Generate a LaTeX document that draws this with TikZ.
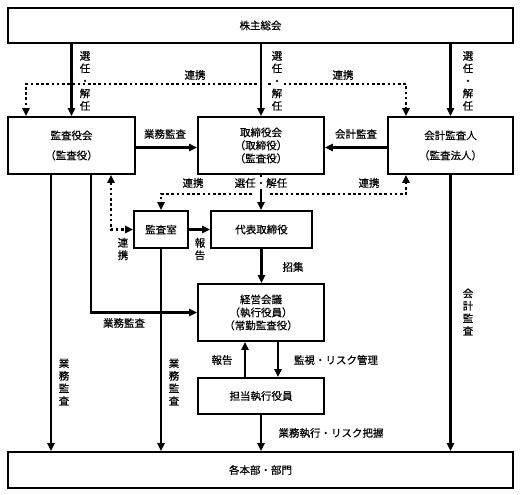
\documentclass[tikz,border=0pt]{standalone}
\usepackage{fontspec}
\setmainfont{Noto Sans CJK JP}[FakeBold=0.5]
\usetikzlibrary{arrows.meta,calc}

\begin{document}
\begin{tikzpicture}[x=1pt,y=-1pt,
                box/.style={draw,line width=1.6pt,align=center,inner sep=0pt,
                            font=\fontsize{10.5}{13}\selectfont},
                wide/.style={font=\fontsize{10.5}{20}\selectfont},
                arr/.style={line width=2.6pt,-{Triangle[length=8pt,width=7pt]}},
                dots/.style={line width=2.6pt,dash pattern=on 2.6pt off 2.6pt,
                             -{Triangle[length=8pt,width=7pt]}},
                lbl/.style={font=\fontsize{10.5}{12.5}\selectfont,align=center,inner sep=0pt}
            ]
                \useasboundingbox (0,0) rectangle (522,495);
                \node[box,minimum width=505pt,minimum height=35pt] (soukai) at (260.5,25.5) {株主総会};
                \node[box,wide,minimum width=127pt,minimum height=57pt] (kansayakukai) at (71.5,145.5) {監査役会\\（監査役）};
                \node[box,minimum width=126pt,minimum height=57pt] (torishimari) at (261,145.5) {取締役会\\（取締役）\\（監査役）};
                \node[box,wide,minimum width=125pt,minimum height=57pt] (kaikei) at (450.5,145.5) {会計監査人\\（監査法人）};
                \node[box,minimum width=54pt,minimum height=37pt] (kansashitsu) at (161,229.5) {監査室};
                \node[box,minimum width=101pt,minimum height=37pt] (daihyo) at (261.5,229.5) {代表取締役};
                \node[box,minimum width=126pt,minimum height=57pt] (keiei) at (261,312.5) {経営会議\\（執行役員）\\（常勤監査役）};
                \node[box,minimum width=126pt,minimum height=36pt] (tanto) at (261,396) {担当執行役員};
                \node[box,minimum width=505pt,minimum height=36pt] (honbu) at (260.5,470) {各本部・部門};

                \draw[arr] (kansayakukai.north |- soukai.south) -- (kansayakukai.north);
                \draw[arr] (torishimari.north |- soukai.south) -- (torishimari.north);
                \draw[arr] (kaikei.north |- soukai.south) -- (kaikei.north);

                \coordinate (rk1) at (257,84);
                \coordinate (rk2) at (268,84);
                \draw[dots] (rk1) -| ([xshift=-45.5pt]kansayakukai.north);
                \draw[dots] (rk2) -| ([xshift=-44.5pt]kaikei.north);
                \node[lbl] (renkei1) at (195,75) {連携};
                \node[lbl] (renkei2) at (343,75) {連携};
                \node[lbl] (sen1) at (85,81) {選\\任\\・\\解\\任};
                \node[lbl,fill=white,inner sep=1pt] (sen2) at (277,81) {選\\任\\・\\解\\任};
                \node[lbl] (sen3) at (468,81) {選\\任\\・\\解\\任};

                \draw[arr] ([yshift=-2pt]kansayakukai.east) -- ([yshift=-2pt]torishimari.west);
                \draw[arr] ([yshift=-2pt]kaikei.west) -- ([yshift=-2pt]torishimari.east);
                \node[lbl] (gyomu1) at (165,134) {業務監査};
                \node[lbl] (kaikei1) at (356,134) {会計監査};

                \draw[arr] (torishimari.south) -- (torishimari.south |- daihyo.north);
                \node[lbl,fill=white,inner sep=1pt] (sen4) at (261,183) {選任・解任};
                \coordinate (rk3) at (252,194);
                \coordinate (rk4) at (270,194);
                \draw[dots] (rk3) -| (kansashitsu.north);
                \draw[dots] (rk4) -| ([xshift=-44.5pt]kaikei.south);
                \node[lbl] (renkei3) at (193,183) {連携};
                \node[lbl] (renkei4) at (369,183) {連携};

                \draw[dots,{Triangle[length=8pt,width=7pt]}-{Triangle[length=8pt,width=7pt]}]
                    ([xshift=39.5pt]kansayakukai.south) |- (kansashitsu.west);
                \node[lbl] (renkei5) at (123,249) {連\\携};
                \draw[arr] (kansashitsu) -- (daihyo);
                \node[lbl] (hokoku1) at (200,249) {報\\告};

                \draw[arr] (daihyo.south) -- (daihyo.south |- keiei.north);
                \node[lbl] (shoshu) at (293,267) {招集};

                \draw[arr] ([xshift=19.5pt]kansayakukai.south) |- (keiei.west);
                \node[lbl] (gyomu2) at (124,323) {業務監査};
                \draw[arr] ([xshift=-20.5pt]kansayakukai.south) -- ([xshift=-20.5pt]kansayakukai.south |- honbu.north);
                \node[lbl] (gyomu3) at (64,382) {業\\務\\監\\査};
                \draw[arr] (kansashitsu.south) -- (kansashitsu.south |- honbu.north);
                \node[lbl] (gyomu4) at (174,382) {業\\務\\監\\査};

                \draw[arr] ([xshift=-16pt]tanto.north) -- ([xshift=-16pt]keiei.south);
                \draw[arr] ([xshift=17pt]keiei.south) -- ([xshift=17pt]tanto.north);
                \node[lbl] (hokoku2) at (222,360) {報告};
                \node[lbl] (kanshi) at (336,360) {監視・リスク管理};

                \draw[arr] (tanto.south) -- (tanto.south |- honbu.north);
                \node[lbl] (shikko) at (331,433) {業務執行・リスク把握};
                \draw[arr] (kaikei.south) -- (kaikei.south |- honbu.north);
                \node[lbl] (kaikei2) at (468,312) {会\\計\\監\\査};
            \end{tikzpicture}
\end{document}
